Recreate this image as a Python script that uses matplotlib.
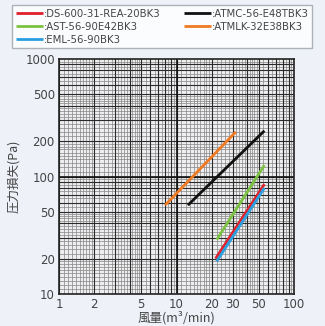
import matplotlib
matplotlib.use('Agg')
import matplotlib.pyplot as plt
import numpy as np

plt.rcParams['font.family'] = ['DejaVu Sans', 'Noto Sans CJK JP']

# series: (airflow m3/min, pressure loss Pa) endpoints
names = [':DS-600-31-REA-20BK3', ':AST-56-90E42BK3', ':EML-56-90BK3',
         ':ATMC-56-E48TBK3', ':ATMLK-32E38BK3']
colors = ['#e0202a', '#7cc242', '#2a9fe0', '#111111', '#f07a22']
flow = [[21.5, 56], [22, 56], [22, 56], [12.5, 56], [8, 32]]
loss = [[20, 86], [29, 125], [19, 80], [57, 245], [57, 240]]

xticks = [1, 2, 5, 10, 20, 30, 50, 100]
yticks = [10, 20, 50, 100, 200, 500, 1000]

bg = '#eef1f8'
fig = plt.figure(figsize=(3.25, 3.26), dpi=100, facecolor=bg)
ax = fig.add_axes([59/325, 32/326, 235/325, 235/326])
ax.set_facecolor('#eeeef0')
ax.set_xscale('log')
ax.set_yscale('log')
ax.set_xlim(1, 100)
ax.set_ylim(10, 1000)


def fine(lo, hi):
    vals = []
    d = lo
    while d < hi:
        for m, step in [(1, 0.1), (2, 0.2), (5, 0.5)]:
            top = {1: 2, 2: 5, 5: 10}[m]
            for v in np.arange(m, top, step):
                vals.append(v * d)
        d *= 10
    return vals


for v in fine(1, 100):
    ax.axvline(v, color='#858585', lw=0.5, zorder=1)
for v in fine(10, 1000):
    ax.axhline(v, color='#858585', lw=0.5, zorder=1)
for d in [1, 10]:
    for k in range(1, 10):
        ax.axvline(k * d, color='#2a2a2a', lw=0.8, zorder=1)
for d in [10, 100]:
    for k in range(1, 10):
        ax.axhline(k * d, color='#2a2a2a', lw=0.8, zorder=1)
ax.axvline(10, color='#111111', lw=1.2, zorder=1)
ax.axhline(100, color='#111111', lw=1.2, zorder=1)

handles = []
for i in range(len(names)):
    h, = ax.plot(flow[i], loss[i], color=colors[i], lw=2, zorder=3,
                 solid_capstyle='butt', label=names[i])
    handles.append(h)

for s in ax.spines.values():
    s.set_color('#222222')
    s.set_linewidth(1.2)

ax.set_xticks(xticks)
ax.set_xticklabels([str(t) for t in xticks])
ax.set_yticks(yticks)
ax.set_yticklabels([str(t) for t in yticks])
ax.minorticks_off()
ax.tick_params(length=0, labelsize=8.5, colors='#444444', pad=3)
ax.set_xlabel('風量(m³/min)', fontsize=9, color='#444444', labelpad=0,
              family=['Noto Sans CJK JP', 'DejaVu Sans'])
ax.set_ylabel('圧力損失(Pa)', fontsize=9, color='#444444', labelpad=4,
              family=['Noto Sans CJK JP'])

leg = fig.legend(handles, names,
                 loc='upper left', bbox_to_anchor=(12/325, 1 - 47/326, 300/325, 42/326),
                 mode='expand', ncol=2,
                 fontsize=7.3, frameon=True, fancybox=False, handlelength=2.7,
                 handletextpad=0.05, columnspacing=1.0, labelspacing=0.3,
                 borderpad=0.35, borderaxespad=0)
leg.get_frame().set_edgecolor('#9aa0aa')
leg.get_frame().set_facecolor('white')
for t in leg.get_texts():
    t.set_color('#444444')

fig.savefig('out.png', dpi=100, facecolor=bg)
